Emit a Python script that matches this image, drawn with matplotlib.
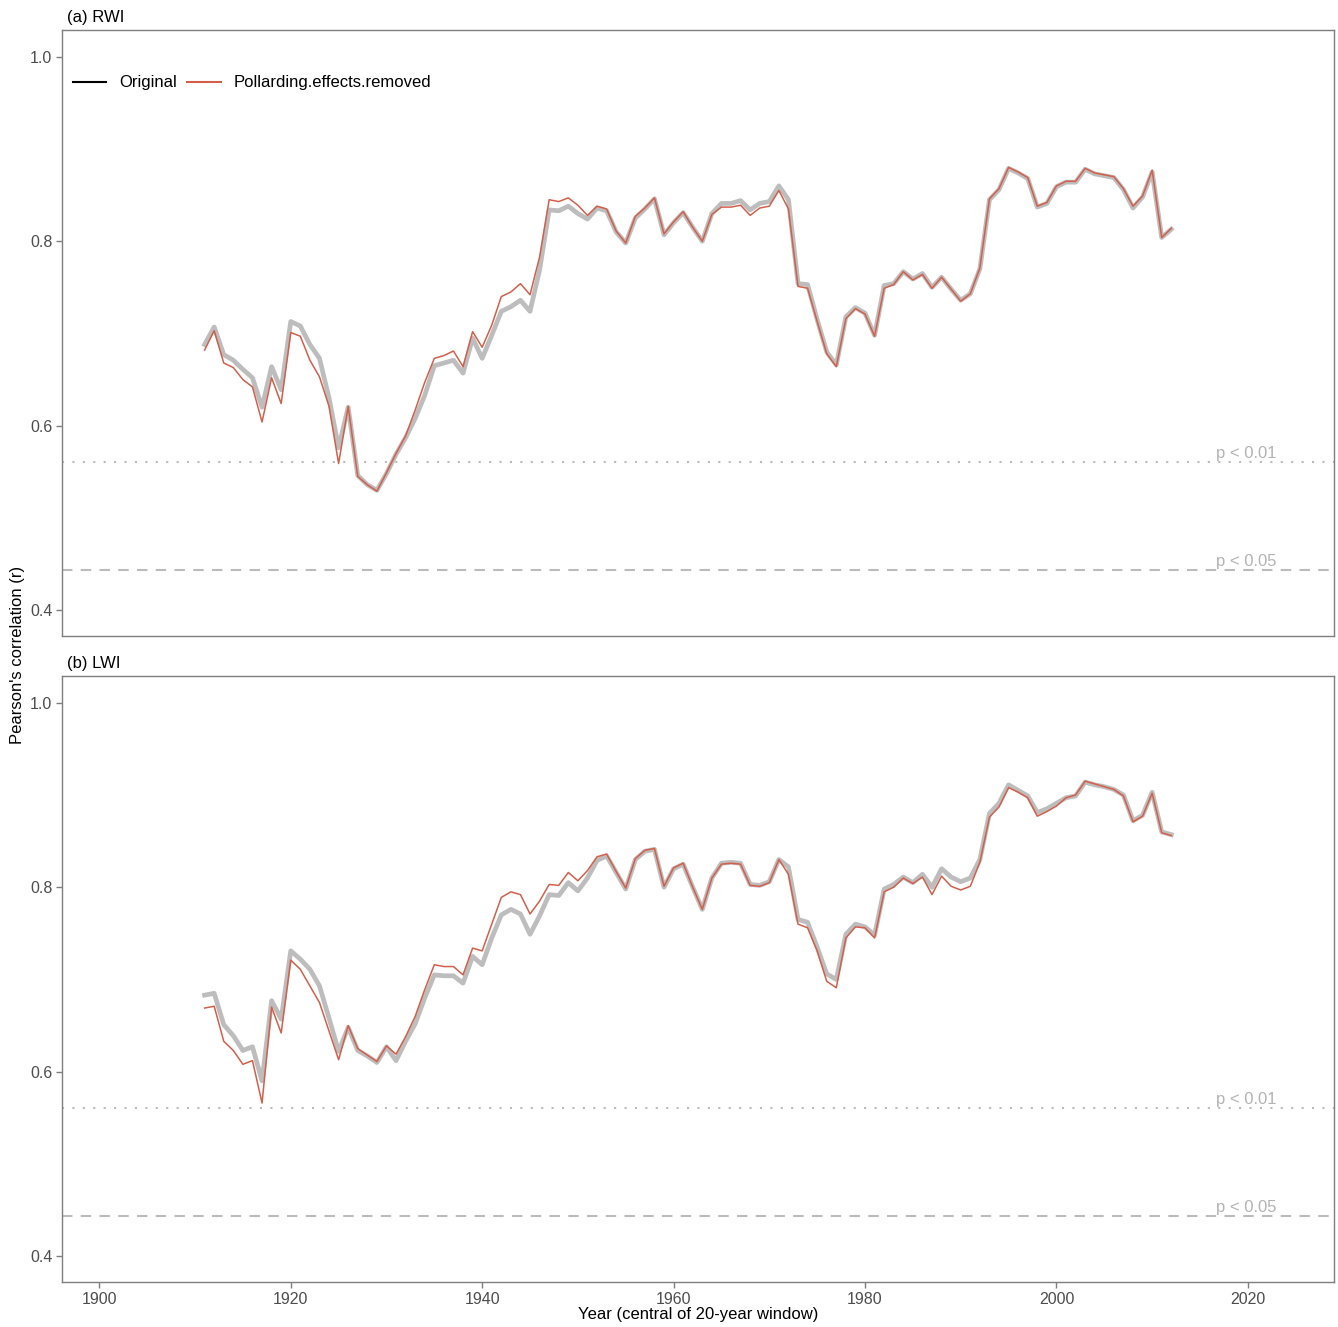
import numpy as np
import matplotlib
matplotlib.use('Agg')
import matplotlib.pyplot as plt
from matplotlib.lines import Line2D

plt.rcParams['font.family'] = ['Liberation Sans', 'DejaVu Sans']

years = np.arange(1911, 2013)

rwi_orig = [0.688, 0.707, 0.677, 0.671, 0.661, 0.652, 0.620, 0.664, 0.639, 0.713,
            0.708, 0.688, 0.673, 0.630, 0.576, 0.620, 0.546, 0.536, 0.530, 0.548,
            0.569, 0.587, 0.608, 0.633, 0.665, 0.668, 0.671, 0.657, 0.695, 0.673,
            0.698, 0.724, 0.729, 0.736, 0.724, 0.769, 0.834, 0.833, 0.838, 0.830,
            0.824, 0.836, 0.833, 0.810, 0.798, 0.825, 0.835, 0.846, 0.807, 0.820,
            0.831, 0.815, 0.800, 0.830, 0.841, 0.841, 0.844, 0.834, 0.841, 0.843,
            0.860, 0.845, 0.754, 0.753, 0.715, 0.680, 0.666, 0.718, 0.728, 0.722,
            0.698, 0.752, 0.754, 0.767, 0.759, 0.765, 0.750, 0.761, 0.748, 0.736,
            0.743, 0.770, 0.845, 0.856, 0.879, 0.874, 0.868, 0.837, 0.841, 0.859,
            0.864, 0.864, 0.878, 0.873, 0.871, 0.869, 0.856, 0.836, 0.848, 0.875,
            0.804, 0.813]
rwi_poll = [0.682, 0.703, 0.668, 0.663, 0.650, 0.642, 0.604, 0.652, 0.624, 0.701,
            0.697, 0.671, 0.653, 0.621, 0.559, 0.621, 0.545, 0.536, 0.529, 0.549,
            0.570, 0.589, 0.617, 0.647, 0.673, 0.676, 0.681, 0.664, 0.702, 0.685,
            0.709, 0.740, 0.745, 0.754, 0.742, 0.783, 0.845, 0.843, 0.847, 0.839,
            0.828, 0.838, 0.835, 0.811, 0.798, 0.827, 0.836, 0.847, 0.808, 0.821,
            0.832, 0.815, 0.800, 0.829, 0.837, 0.837, 0.839, 0.828, 0.836, 0.838,
            0.855, 0.835, 0.751, 0.749, 0.713, 0.678, 0.664, 0.716, 0.727, 0.721,
            0.697, 0.749, 0.753, 0.767, 0.758, 0.764, 0.749, 0.761, 0.748, 0.735,
            0.743, 0.771, 0.846, 0.857, 0.880, 0.875, 0.869, 0.838, 0.842, 0.860,
            0.865, 0.865, 0.879, 0.874, 0.872, 0.870, 0.857, 0.838, 0.849, 0.877,
            0.804, 0.814]

lwi_orig = [0.683, 0.685, 0.651, 0.639, 0.623, 0.627, 0.590, 0.677, 0.657, 0.731,
            0.722, 0.711, 0.693, 0.658, 0.622, 0.648, 0.623, 0.617, 0.610, 0.627,
            0.612, 0.633, 0.652, 0.680, 0.705, 0.704, 0.704, 0.696, 0.725, 0.716,
            0.745, 0.770, 0.776, 0.771, 0.749, 0.769, 0.792, 0.791, 0.805, 0.796,
            0.810, 0.829, 0.834, 0.816, 0.798, 0.830, 0.839, 0.841, 0.800, 0.820,
            0.825, 0.800, 0.776, 0.810, 0.826, 0.827, 0.826, 0.803, 0.802, 0.806,
            0.830, 0.822, 0.765, 0.762, 0.735, 0.706, 0.700, 0.749, 0.760, 0.757,
            0.748, 0.798, 0.803, 0.811, 0.805, 0.814, 0.800, 0.820, 0.811, 0.806,
            0.810, 0.830, 0.880, 0.891, 0.911, 0.905, 0.899, 0.881, 0.885, 0.891,
            0.897, 0.899, 0.914, 0.911, 0.909, 0.906, 0.900, 0.872, 0.878, 0.903,
            0.860, 0.857]
lwi_poll = [0.669, 0.671, 0.633, 0.623, 0.608, 0.612, 0.566, 0.670, 0.642, 0.721,
            0.711, 0.693, 0.675, 0.644, 0.613, 0.650, 0.625, 0.618, 0.611, 0.628,
            0.619, 0.638, 0.660, 0.689, 0.716, 0.714, 0.714, 0.705, 0.734, 0.731,
            0.760, 0.789, 0.795, 0.792, 0.771, 0.785, 0.803, 0.802, 0.816, 0.807,
            0.818, 0.833, 0.836, 0.817, 0.799, 0.831, 0.840, 0.842, 0.801, 0.821,
            0.826, 0.800, 0.776, 0.810, 0.825, 0.826, 0.825, 0.802, 0.801, 0.805,
            0.830, 0.814, 0.760, 0.756, 0.731, 0.698, 0.691, 0.745, 0.757, 0.756,
            0.745, 0.795, 0.800, 0.810, 0.804, 0.811, 0.792, 0.812, 0.801, 0.797,
            0.801, 0.827, 0.876, 0.887, 0.908, 0.903, 0.897, 0.877, 0.882, 0.888,
            0.897, 0.900, 0.915, 0.912, 0.909, 0.906, 0.899, 0.871, 0.877, 0.902,
            0.859, 0.856]

r_crit = {'p < 0.01': 0.561, 'p < 0.05': 0.444}
panels = [('(a) RWI', rwi_orig, rwi_poll), ('(b) LWI', lwi_orig, lwi_poll)]

grey = '#bdbdbd'
red = '#d35f4a'
txt_grey = '#4d4d4d'

fig = plt.figure(figsize=(13.38, 13.27), dpi=100)
W, H = 1338, 1327
boxes = [(62, 30, 1334, 636), (62, 676, 1334, 1282)]

for i, ((title, orig, poll), (x0, y0, x1, y1)) in enumerate(zip(panels, boxes)):
    ax = fig.add_axes([x0 / W, 1 - y1 / H, (x1 - x0) / W, (y1 - y0) / H])
    ax.plot(years, orig, color=grey, lw=3.4, solid_joinstyle='round', zorder=2)
    ax.plot(years, poll, color=red, lw=1.1, zorder=3)
    ax.axhline(r_crit['p < 0.01'], color='#bbbbbb', lw=1.5, ls=(0, (1, 4)), zorder=1)
    ax.axhline(r_crit['p < 0.05'], color='#bbbbbb', lw=1.5, ls=(0, (5, 4)), zorder=1)
    for lab, v in r_crit.items():
        ax.text(2019.8, v + 0.0005, lab, color='#b3b3b3', fontsize=12,
                ha='center', va='bottom')
    ax.set_xlim(1896.1, 2029)
    ax.set_ylim(0.372, 1.029)
    ax.set_yticks([0.4, 0.6, 0.8, 1.0])
    ax.set_yticklabels(['0.4', '0.6', '0.8', '1.0'])
    ax.set_xticks([1900, 1920, 1940, 1960, 1980, 2000, 2020])
    ax.tick_params(colors='#7f7f7f', labelcolor=txt_grey, labelsize=11.5, length=4, width=1,
                   pad=3)
    if i == 0:
        ax.tick_params(axis='x', bottom=False, labelbottom=False)
    for s in ax.spines.values():
        s.set_color('#7f7f7f')
        s.set_linewidth(1)
    ax.text(0.004, 1.008, title, transform=ax.transAxes, fontsize=12,
            ha='left', va='bottom')
    if i == 0:
        handles = [Line2D([], [], color='black', lw=1.5),
                   Line2D([], [], color=red, lw=1.5)]
        ax.legend(handles, ['Original', 'Pollarding.effects.removed'], ncol=2,
                  loc='center left', bbox_to_anchor=((73 - 62) / 1272, 1 - (83 - 30) / 606),
                  frameon=False, fontsize=12, handlelength=2.0, handletextpad=0.75,
                  columnspacing=0.65, borderpad=0, borderaxespad=0)

fig.text(18 / W, 1 - 655 / H, "Pearson's correlation (r)", rotation=90,
         ha='center', va='center', fontsize=12)
fig.text(698 / W, 1 - 1315 / H, 'Year (central of 20-year window)',
         ha='center', va='center', fontsize=12)

fig.savefig('out.png', dpi=100, facecolor='white')
